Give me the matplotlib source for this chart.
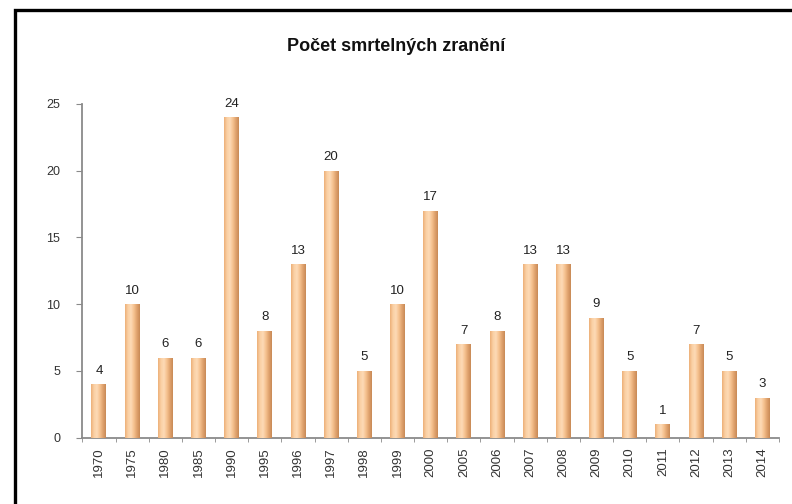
import matplotlib
matplotlib.use("Agg")
import matplotlib.pyplot as plt
import numpy as np
from matplotlib.colors import LinearSegmentedColormap
from matplotlib.patches import Rectangle

years = ["1970", "1975", "1980", "1985", "1990", "1995", "1996", "1997", "1998", "1999",
         "2000", "2005", "2006", "2007", "2008", "2009", "2010", "2011", "2012", "2013", "2014"]
deaths = [4, 10, 6, 6, 24, 8, 13, 20, 5, 10, 17, 7, 8, 13, 13, 9, 5, 1, 7, 5, 3]
title = "Počet smrtelných zranění"
yticks = [0, 5, 10, 15, 20, 25]

plt.rcParams['font.family'] = ['Liberation Sans', 'DejaVu Sans']

fig = plt.figure(figsize=(7.92, 5.04), dpi=100)
ax = fig.add_axes([0.104, 0.1315, 0.8796, 0.6622])

x = np.arange(len(years))
bars = ax.bar(x, deaths, width=0.45, color="#F7C48F", edgecolor="none", zorder=2)

cmap = LinearSegmentedColormap.from_list(
    "cyl", ["#EDB078", "#FAD0A4", "#FDDAB6", "#F6C290", "#E0A36E", "#C88A56"])
grad = np.linspace(0, 1, 64).reshape(1, -1)
for b in bars:
    x0, y0 = b.get_x(), b.get_y()
    w, h = b.get_width(), b.get_height()
    im = ax.imshow(grad, cmap=cmap, aspect="auto", extent=[x0, x0 + w, y0, y0 + h],
                   zorder=3, interpolation="bilinear")
    im.set_clip_path(b)

for xi, v in zip(x, deaths):
    ax.annotate(str(v), (xi, v), xytext=(0, 5.5), textcoords="offset points",
                ha="center", va="bottom", fontsize=9.5, color="#222222")

ax.set_xlim(-0.5, len(years) - 0.5)
ax.set_ylim(0, 25)
ax.set_yticks(yticks)
ax.set_xticks(x)
ax.set_xticklabels(years, rotation=90)
ax.set_xticks(np.arange(-0.5, len(years), 1.0), minor=True)

for s in ["top", "right"]:
    ax.spines[s].set_visible(False)
for s in ["left", "bottom"]:
    ax.spines[s].set_color("#8a8a8a")
    ax.spines[s].set_linewidth(1.3)

ax.tick_params(axis="y", length=4, color="#8a8a8a", pad=12, labelsize=9, labelcolor="#333333")
ax.tick_params(axis="x", which="major", length=0, pad=7, labelsize=9.5, labelcolor="#333333")
ax.tick_params(axis="x", which="minor", length=3, color="#8a8a8a")

fig.text(0.5, 0.907, title, ha="center", va="center", fontsize=13, fontweight="bold",
         color="#111111")

border = Rectangle((15 / 792, -0.1), 1.2, 1 - 10 / 504 + 0.1, transform=fig.transFigure,
                   fill=False, edgecolor="black", linewidth=2.4, clip_on=False)
fig.patches.append(border)

fig.savefig("out.png", dpi=100)
